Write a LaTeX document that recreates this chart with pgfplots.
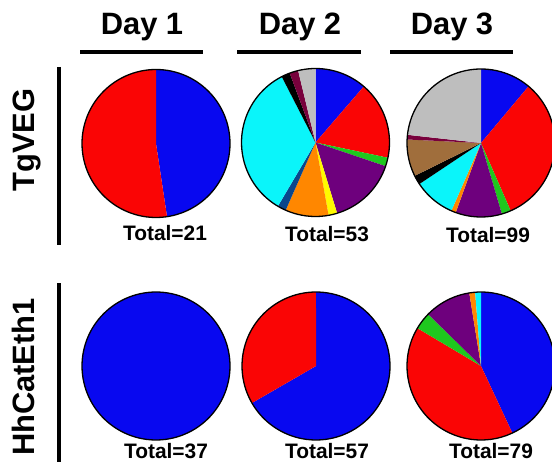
\documentclass[border=0pt]{standalone}
\usepackage{pgfplots}
\usepackage{pgfplotstable}
\pgfplotsset{compat=1.18}
\usepackage{fontspec}
\setmainfont{Liberation Sans}

% slice colours
\definecolor{pieblue}{RGB}{8,8,240}
\definecolor{piered}{RGB}{250,5,5}
\definecolor{piegreen}{RGB}{30,200,30}
\definecolor{piepurple}{RGB}{110,0,125}
\definecolor{pieyellow}{RGB}{255,250,0}
\definecolor{pieorange}{RGB}{255,135,0}
\definecolor{pienavy}{RGB}{10,70,140}
\definecolor{piecyan}{RGB}{10,245,250}
\definecolor{pieblack}{RGB}{0,0,0}
\definecolor{piemaroon}{RGB}{120,0,60}
\definecolor{piegray}{RGB}{190,190,190}
\definecolor{piebrown}{RGB}{160,110,60}

% counts per category, clockwise from 12 o'clock
\pgfplotstableread{
color count
pieblue 10
piered 11
}\tgA
\pgfplotstableread{
color count
pieblue 6
piered 9
piegreen 1
piepurple 8
pieyellow 1
pieorange 5
pienavy 1
piecyan 18
pieblack 1
piemaroon 1
piegray 2
}\tgB
\pgfplotstableread{
color count
pieblue 11
piered 32
piegreen 2
piepurple 10
pieorange 1
piecyan 9
pieblack 2
piebrown 8
piemaroon 1
piegray 23
}\tgC
\pgfplotstableread{
color count
pieblue 37
}\hhA
\pgfplotstableread{
color count
pieblue 38
piered 19
}\hhB
\pgfplotstableread{
color count
pieblue 34
piered 32
piegreen 3
piepurple 8
pieorange 1
piecyan 1
}\hhC

\def\pieR{74}
% \drawpie{table}{cx}{cy}
\newcommand\drawpie[3]{%
  \pgfplotstablegetrowsof{#1}%
  \pgfmathtruncatemacro\nrows{\pgfplotsretval-1}%
  \def\pietotal{0}%
  \pgfplotsforeachungrouped \i in {0,...,\nrows}{%
    \pgfplotstablegetelem{\i}{count}\of{#1}%
    \pgfmathsetmacro\pietotal{\pietotal+\pgfplotsretval}}%
  \def\piestart{0}%
  \pgfplotsforeachungrouped \i in {0,...,\nrows}{%
    \pgfplotstablegetelem{\i}{count}\of{#1}\let\piecount\pgfplotsretval
    \pgfplotstablegetelem{\i}{color}\of{#1}\let\piecolor\pgfplotsretval
    \pgfmathsetmacro\pieend{\piestart+360*\piecount/\pietotal}%
    \edef\doslice{\noexpand\addplot[draw=none,fill=\piecolor,domain=\piestart:\pieend,samples=60,variable=\noexpand\t]
      ({#2+\pieR*sin(\noexpand\t)},{#3-\pieR*cos(\noexpand\t)}) -- (axis cs:#2,#3) -- cycle;}%
    \doslice
    \let\piestart\pieend}%
  \addplot[black,line width=1.3bp,domain=0:360,samples=120,variable=\t]
    ({#2+\pieR*sin(\t)},{#3-\pieR*cos(\t)}) -- cycle;
}

\begin{document}
\begin{tikzpicture}
\begin{axis}[
  scale only axis, width=552bp, height=465bp,
  xmin=0, xmax=552, ymin=0, ymax=465, y dir=reverse,
  hide axis, clip=true]

\drawpie{\tgA}{156}{143.5}
\drawpie{\tgB}{315.5}{142.5}
\drawpie{\tgC}{481}{143}
\drawpie{\hhA}{156}{366}
\drawpie{\hhB}{316}{366}
\drawpie{\hhC}{481}{366}

% column headers
\node[anchor=base,font=\fontsize{31}{34}\selectfont\bfseries] at (axis cs:142,35) {Day 1};
\node[anchor=base,font=\fontsize{31}{34}\selectfont\bfseries] at (axis cs:300,35) {Day 2};
\node[anchor=base,font=\fontsize{31}{34}\selectfont\bfseries] at (axis cs:452,35) {Day 3};
\draw[line width=3.2bp] (axis cs:80,52) -- (axis cs:203,52);
\draw[line width=3.2bp] (axis cs:237,52) -- (axis cs:361,52);
\draw[line width=3.2bp] (axis cs:390,52) -- (axis cs:513,52);

% row labels
\node[rotate=90,anchor=base,font=\fontsize{31}{34}\selectfont\bfseries] at (axis cs:34,140) {TgVEG};
\node[rotate=90,anchor=base,font=\fontsize{31}{34}\selectfont\bfseries] at (axis cs:34,377) {HhCatEth1};
\draw[line width=3.6bp] (axis cs:59,67) -- (axis cs:59,245);
\draw[line width=3.6bp] (axis cs:59,283) -- (axis cs:59,462);

% totals
\node[anchor=base,font=\fontsize{21}{24}\selectfont\bfseries] at (axis cs:165,240) {Total=21};
\node[anchor=base,font=\fontsize{21}{24}\selectfont\bfseries] at (axis cs:327,241) {Total=53};
\node[anchor=base,font=\fontsize{21}{24}\selectfont\bfseries] at (axis cs:488,242) {Total=99};
\node[anchor=base,font=\fontsize{21}{24}\selectfont\bfseries] at (axis cs:166,458) {Total=37};
\node[anchor=base,font=\fontsize{21}{24}\selectfont\bfseries] at (axis cs:327,458) {Total=57};
\node[anchor=base,font=\fontsize{21}{24}\selectfont\bfseries] at (axis cs:491,458) {Total=79};
\end{axis}
\pgfresetboundingbox
\path (current axis.south west) rectangle (current axis.north east);
\end{tikzpicture}
\end{document}
